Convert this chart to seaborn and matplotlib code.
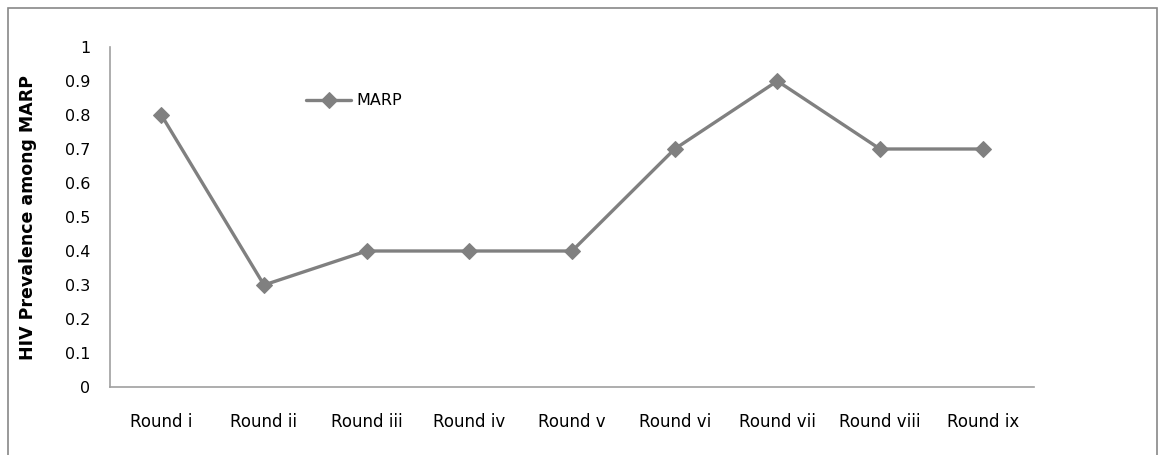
import seaborn as sns
import pandas as pd
import matplotlib.pyplot as plt
from matplotlib.patches import Rectangle

# HIV prevalence among MARP per survey round
rounds = ["Round i", "Round ii", "Round iii", "Round iv", "Round v",
          "Round vi", "Round vii", "Round viii", "Round ix"]
prevalence = [0.8, 0.3, 0.4, 0.4, 0.4, 0.7, 0.9, 0.7, 0.7]

df = pd.DataFrame({"round": rounds, "prevalence": prevalence})

sns.set_style("white")
plt.rcParams["font.family"] = ["DejaVu Sans"]
plt.rcParams["text.color"] = "black"

fig = plt.figure(figsize=(11.65, 4.55), dpi=100)
W, H = 1165, 455
ax = fig.add_axes([110 / W, 1 - 387 / H, (1034 - 110) / W, (387 - 47) / H])

grey = "#808080"
sns.lineplot(data=df, x="round", y="prevalence", ax=ax, color=grey,
             linewidth=2.4, marker="D", markersize=8.5,
             markeredgecolor=grey, label="MARP", sort=False)

ax.set_xlim(-0.5, len(rounds) - 0.5)
ax.set_ylim(0, 1)
ax.set_yticks([i / 10 for i in range(11)])
ax.set_yticklabels(["0"] + [f"{i / 10:.1f}" for i in range(1, 10)] + ["1"])
ax.tick_params(axis="both", length=0, labelsize=11.5, colors="black")
ax.tick_params(axis="x", pad=19, labelsize=12)
ax.tick_params(axis="y", pad=14)

ax.set_xlabel("")
ax.set_ylabel("HIV Prevalence among MARP", fontsize=12.5, fontweight="bold",
              color="black", labelpad=20)

for side in ["top", "right"]:
    ax.spines[side].set_visible(False)
for side in ["left", "bottom"]:
    ax.spines[side].set_color("#a0a0a0")
    ax.spines[side].set_linewidth(1.2)

leg = ax.legend(loc="upper left",
                bbox_to_anchor=((300 - 110) / (1034 - 110), (387 - 87) / 340),
                frameon=False, fontsize=11.5, handlelength=2.8,
                handletextpad=0.3, borderaxespad=0)
for t in leg.get_texts():
    t.set_color("black")

# outer chart border
fig.patches.append(Rectangle((8 / W, -0.05), (1157 - 8) / W, 1 - 8 / H + 0.05,
                             transform=fig.transFigure, fill=False,
                             edgecolor="#888888", linewidth=1.2))

fig.savefig("out.png", dpi=100)
